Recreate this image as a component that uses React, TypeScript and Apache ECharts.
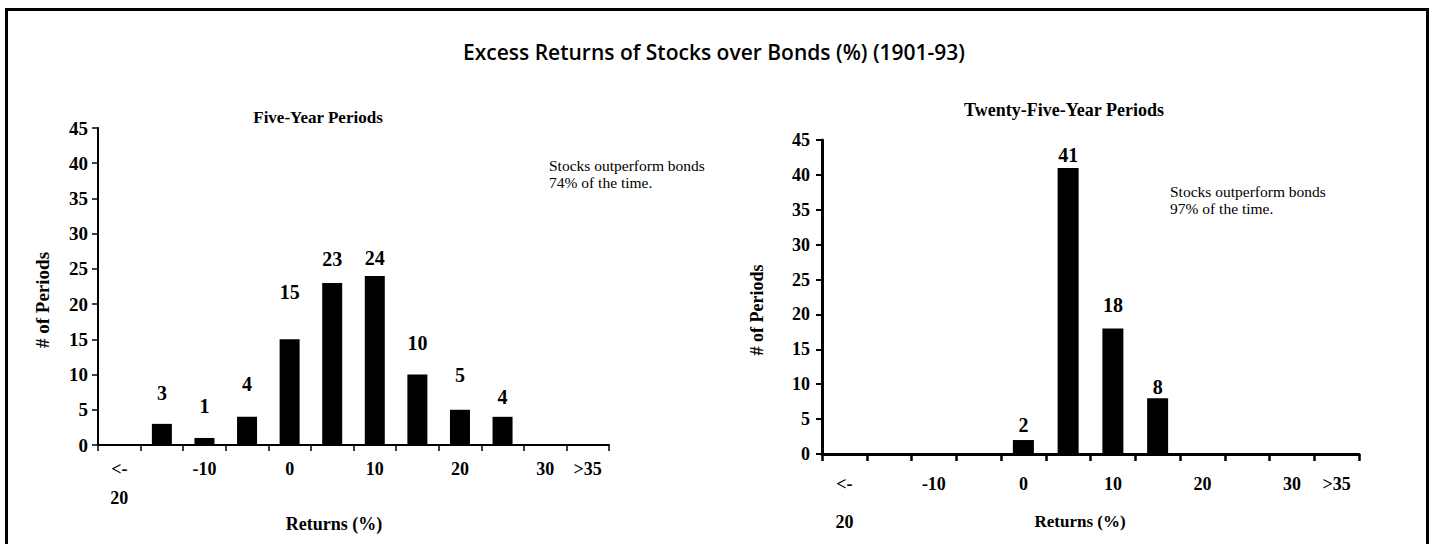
import React, { useEffect, useRef } from "react";
import * as echarts from "echarts";

// ---- data ----
const bins = ["<-20", "-15", "-10", "-5", "0", "5", "10", "15", "20", "25", "30", ">35"];
const tickLabels = ["<-\n20", "", "-10", "", "0", "", "10", "", "20", "", "30", ">35"];
const fiveYearCounts = [0, 3, 1, 4, 15, 23, 24, 10, 5, 4, 0, 0];
const twentyFiveYearCounts = [0, 0, 0, 0, 2, 41, 18, 8, 0, 0, 0, 0];
const mainTitle = "Excess Returns of Stocks over Bonds (%) (1901-93)";
const leftTitle = "Five-Year Periods";
const rightTitle = "Twenty-Five-Year Periods";
const leftNote = "Stocks outperform bonds\n74% of the time.";
const rightNote = "Stocks outperform bonds\n97% of the time.";
const xName = "Returns (%)";
const yName = "# of Periods";

// label lifts (style only, px above the bar top)
const fiveYearLabelLift = [0, 21, 22, 23, 37, 14, 8, 22, 25, 10, 0, 0];
const twentyFiveLabelLift = [0, 0, 0, 0, 5, 3, 13, 1, 0, 0, 0, 0];

const SERIF = "'Liberation Serif', 'Times New Roman', serif";

function barData(values: number[], lifts: number[]) {
  return values.map((v, i) => ({
    value: v,
    label: { offset: [0, -lifts[i]] },
  }));
}

export default function App() {
  const ref = useRef<HTMLDivElement>(null);
  useEffect(() => {
    if (!ref.current) return;
    const chart = echarts.init(ref.current, null, { renderer: "svg" });
    const axisLabelBase = {
      color: "#000",
      fontFamily: SERIF,
      fontWeight: "bold" as const,
      fontSize: 18,
    };
    const dataLabel = {
      show: true,
      position: "top",
      distance: 0,
      color: "#000",
      fontFamily: SERIF,
      fontWeight: "bold",
      fontSize: 20,
      formatter: (p: any) => (p.value > 0 ? String(p.value) : ""),
    };
    chart.setOption({
      animation: false,
      backgroundColor: "#fff",
      grid: [
        { left: 98, top: 128, width: 511, height: 317 },
        { left: 822, top: 140, width: 537, height: 314 },
      ],
      xAxis: [
        {
          type: "category",
          gridIndex: 0,
          data: bins,
          axisLine: { lineStyle: { color: "#000", width: 2 } },
          axisTick: { show: true, interval: 0, length: 6, lineStyle: { color: "#000", width: 1.5 } },
          axisLabel: {
            ...axisLabelBase,
            interval: 0,
            margin: 9,
            lineHeight: 29,
            formatter: (_v: string, i: number) => tickLabels[i],
          },
        },
        {
          type: "category",
          gridIndex: 1,
          data: bins,
          axisLine: { lineStyle: { color: "#000", width: 3 } },
          axisTick: { show: true, interval: 0, length: 7, lineStyle: { color: "#000", width: 2.5 } },
          axisLabel: {
            ...axisLabelBase,
            interval: 0,
            margin: 11,
            lineHeight: 38,
            formatter: (_v: string, i: number) => tickLabels[i],
          },
        },
      ],
      yAxis: [
        {
          type: "value",
          gridIndex: 0,
          min: 0,
          max: 45,
          interval: 5,
          splitLine: { show: false },
          axisLine: { show: true, lineStyle: { color: "#000", width: 2 } },
          axisTick: { show: true, length: 6, lineStyle: { color: "#000", width: 1.5 } },
          axisLabel: { ...axisLabelBase, fontSize: 19, margin: 10 },
        },
        {
          type: "value",
          gridIndex: 1,
          min: 0,
          max: 45,
          interval: 5,
          splitLine: { show: false },
          axisLine: { show: true, lineStyle: { color: "#000", width: 3 } },
          axisTick: { show: true, length: 6, lineStyle: { color: "#000", width: 2 } },
          axisLabel: { ...axisLabelBase, margin: 12 },
        },
      ],
      series: [
        {
          type: "bar",
          xAxisIndex: 0,
          yAxisIndex: 0,
          barWidth: 20,
          itemStyle: { color: "#000" },
          data: barData(fiveYearCounts, fiveYearLabelLift),
          label: dataLabel,
        },
        {
          type: "bar",
          xAxisIndex: 1,
          yAxisIndex: 1,
          barWidth: 21,
          itemStyle: { color: "#000" },
          data: barData(twentyFiveYearCounts, twentyFiveLabelLift),
          label: dataLabel,
        },
      ],
      graphic: [
        {
          type: "rect",
          shape: { x: 6.5, y: 9.5, width: 1421, height: 600 },
          style: { fill: "none", stroke: "#000", lineWidth: 3 },
          silent: true,
        },
        {
          type: "text",
          x: 714,
          y: 52,
          style: {
            text: mainTitle,
            fill: "#000",
            font: "600 21px 'Open Sans', 'Noto Sans', sans-serif",
            align: "center",
            verticalAlign: "middle",
          },
        },
        {
          type: "text",
          x: 318,
          y: 117,
          style: {
            text: leftTitle,
            fill: "#000",
            font: `bold 17px ${SERIF}`,
            align: "center",
            verticalAlign: "middle",
          },
        },
        {
          type: "text",
          x: 1064,
          y: 110,
          style: {
            text: rightTitle,
            fill: "#000",
            font: `bold 18px ${SERIF}`,
            align: "center",
            verticalAlign: "middle",
          },
        },
        {
          type: "text",
          x: 549,
          y: 173.5,
          style: {
            text: leftNote,
            fill: "#000",
            font: `15.5px ${SERIF}`,
            lineHeight: 17,
            align: "left",
            verticalAlign: "middle",
          },
        },
        {
          type: "text",
          x: 1170,
          y: 200,
          style: {
            text: rightNote,
            fill: "#000",
            font: `15.5px ${SERIF}`,
            lineHeight: 17,
            align: "left",
            verticalAlign: "middle",
          },
        },
        {
          type: "text",
          x: 42,
          y: 300,
          rotation: Math.PI / 2,
          style: {
            text: yName,
            fill: "#000",
            font: `bold 19px ${SERIF}`,
            align: "center",
            verticalAlign: "middle",
          },
        },
        {
          type: "text",
          x: 757,
          y: 310,
          rotation: Math.PI / 2,
          style: {
            text: yName,
            fill: "#000",
            font: `bold 18px ${SERIF}`,
            align: "center",
            verticalAlign: "middle",
          },
        },
        {
          type: "text",
          x: 334,
          y: 524,
          style: {
            text: xName,
            fill: "#000",
            font: `bold 18px ${SERIF}`,
            align: "center",
            verticalAlign: "middle",
          },
        },
        {
          type: "text",
          x: 1080,
          y: 521,
          style: {
            text: xName,
            fill: "#000",
            font: `bold 17px ${SERIF}`,
            align: "center",
            verticalAlign: "middle",
          },
        },
      ],
    });
    return () => chart.dispose();
  }, []);
  return (
    <div
      ref={ref}
      style={{ position: "fixed", left: 0, top: 0, width: 1431, height: 544 }}
    />
  );
}
